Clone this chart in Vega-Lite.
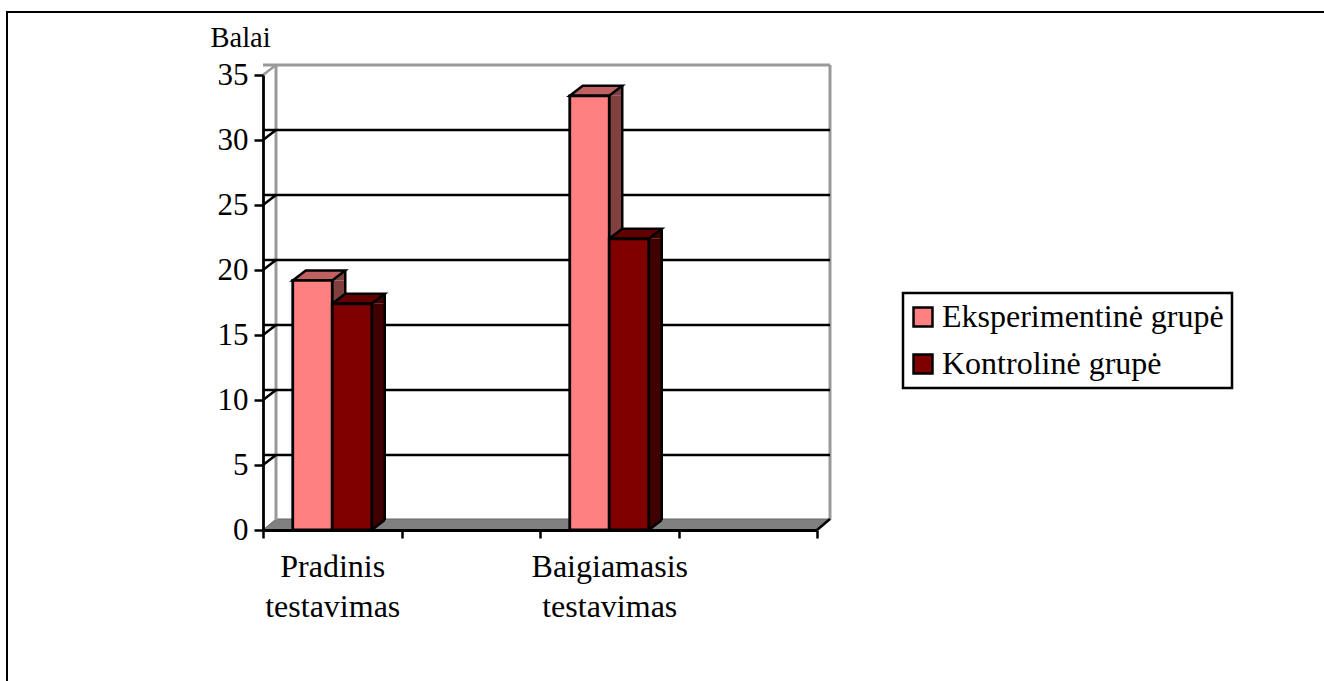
{
  "$schema": "https://vega.github.io/schema/vega-lite/v6.json",
  "width": 554,
  "height": 455,
  "autosize": "none",
  "padding": {"left": 263, "top": 75, "right": 507, "bottom": 151},
  "background": "white",
  "config": {"view": {"stroke": null}, "font": "Liberation Serif"},
  "datasets": {
    "bars": [
      {"testas": "Pradinis testavimas", "grupe": "Eksperimentinė grupė", "balai": 19.2},
      {"testas": "Pradinis testavimas", "grupe": "Kontrolinė grupė", "balai": 17.4},
      {"testas": "Baigiamasis testavimas", "grupe": "Eksperimentinė grupė", "balai": 33.4},
      {"testas": "Baigiamasis testavimas", "grupe": "Kontrolinė grupė", "balai": 22.4}
    ],
    "grid": [{"t": 5}, {"t": 10}, {"t": 15}, {"t": 20}, {"t": 25}, {"t": 30}],
    "box": [{"t": 0}]
  },
  "data": {"name": "bars"},
  "layer": [
    {
      "description": "page frame, running past the right and bottom edges",
      "data": {"name": "box"},
      "mark": {"type": "rect", "fill": "white", "stroke": "black", "strokeWidth": 2, "clip": false},
      "encoding": {"x": {"value": -256}, "x2": {"value": 1100}, "y": {"value": -63}, "y2": {"value": 660}}
    },
    {
      "description": "floor of the 3D box",
      "data": {"name": "box"},
      "mark": {"type": "point", "shape": "M0 0L13 -11L567 -11L554 0Z", "size": 4, "filled": true, "fill": "#808080", "fillOpacity": 1, "stroke": "#666666", "strokeWidth": 1, "opacity": 1},
      "encoding": {
        "x": {"datum": "Pradinis testavimas", "type": "nominal", "bandPosition": 0},
        "y": {"field": "t", "type": "quantitative"}
      }
    },
    {
      "description": "back wall, left edge",
      "data": {"name": "box"},
      "mark": {"type": "rule", "stroke": "#999999", "strokeWidth": 3, "xOffset": 13, "yOffset": -10, "y2Offset": -10},
      "encoding": {
        "x": {"datum": "Pradinis testavimas", "type": "nominal", "bandPosition": 0},
        "y": {"datum": 0, "type": "quantitative"},
        "y2": {"datum": 35}
      }
    },
    {
      "description": "back wall, right edge",
      "data": {"name": "box"},
      "mark": {"type": "rule", "stroke": "#999999", "strokeWidth": 3, "xOffset": 13, "yOffset": -10, "y2Offset": -10},
      "encoding": {
        "x": {"datum": "  ", "type": "nominal", "bandPosition": 1},
        "y": {"datum": 0, "type": "quantitative"},
        "y2": {"datum": 35}
      }
    },
    {
      "description": "back wall, top edge",
      "data": {"name": "box"},
      "mark": {"type": "rule", "stroke": "#999999", "strokeWidth": 3, "xOffset": 13, "x2Offset": 13, "yOffset": -10},
      "encoding": {"y": {"datum": 35, "type": "quantitative"}}
    },
    {
      "description": "gridlines on the back wall",
      "data": {"name": "grid"},
      "mark": {"type": "rule", "stroke": "black", "strokeWidth": 2.5, "xOffset": 13, "x2Offset": 13, "yOffset": -10},
      "encoding": {"y": {"field": "t", "type": "quantitative"}}
    },
    {
      "description": "slanted ticks joining the axis to the gridlines",
      "data": {"name": "grid"},
      "mark": {"type": "point", "shape": "M0 0L13 -10", "size": 4, "filled": false, "stroke": "black", "strokeWidth": 2.5, "opacity": 1},
      "encoding": {
        "x": {"datum": "Pradinis testavimas", "type": "nominal", "bandPosition": 0},
        "y": {"field": "t", "type": "quantitative"}
      }
    },
    {
      "description": "slanted grey corner at the top of the axis",
      "data": {"name": "box"},
      "mark": {"type": "point", "shape": "M0 0L13 -10", "size": 4, "filled": false, "stroke": "#999999", "strokeWidth": 2.5, "opacity": 1},
      "encoding": {
        "x": {"datum": "Pradinis testavimas", "type": "nominal", "bandPosition": 0},
        "y": {"datum": 35, "type": "quantitative"}
      }
    },
    {
      "description": "slanted black corner at the right end of the floor",
      "data": {"name": "box"},
      "mark": {"type": "point", "shape": "M0 0L13 -11", "size": 4, "filled": false, "stroke": "black", "strokeWidth": 2.5, "opacity": 1},
      "encoding": {
        "x": {"datum": "  ", "type": "nominal", "bandPosition": 1},
        "y": {"datum": 0, "type": "quantitative"}
      }
    },
    {
      "description": "pink bars: side and top faces, offset from the centre of the band",
      "transform": [{"filter": "datum.grupe === 'Eksperimentinė grupė'"}],
      "layer": [
        {
          "mark": {"type": "bar", "fill": "#804040", "width": 13, "xOffset": 6.5, "y2Offset": -10},
          "encoding": {
            "x": {"field": "testas", "type": "nominal"},
            "y": {"field": "balai", "type": "quantitative"},
            "y2": {"datum": 0}
          }
        },
        {
          "mark": {"type": "point", "shape": "M0 0L13 -10L13 0Z", "size": 4, "filled": true, "fill": "#804040", "opacity": 1},
          "encoding": {
            "x": {"field": "testas", "type": "nominal"},
            "y": {"field": "balai", "type": "quantitative"}
          }
        },
        {
          "mark": {"type": "point", "shape": "M0 0L0 -10L13 -10Z", "size": 4, "filled": true, "fill": "#804040", "opacity": 1},
          "encoding": {
            "x": {"field": "testas", "type": "nominal"},
            "y": {"datum": 0, "type": "quantitative"}
          }
        },
        {
          "mark": {"type": "rule", "stroke": "black", "strokeWidth": 2.5, "xOffset": 13, "yOffset": -10, "y2Offset": -10},
          "encoding": {
            "x": {"field": "testas", "type": "nominal"},
            "y": {"field": "balai", "type": "quantitative"},
            "y2": {"datum": 0}
          }
        },
        {
          "mark": {"type": "point", "shape": "M0 0L13 -10", "size": 4, "filled": false, "stroke": "black", "strokeWidth": 2.5, "opacity": 1},
          "encoding": {
            "x": {"field": "testas", "type": "nominal"},
            "y": {"datum": 0, "type": "quantitative"}
          }
        },
        {
          "mark": {"type": "point", "shape": "M-39.5 0L-26.5 -10L13 -10L0 0Z", "size": 4, "filled": true, "fill": "#C06060", "stroke": "black", "strokeWidth": 2.5, "opacity": 1},
          "encoding": {
            "x": {"field": "testas", "type": "nominal"},
            "y": {"field": "balai", "type": "quantitative"}
          }
        }
      ]
    },
    {
      "description": "dark bars: side and top faces, offset from the centre of the band",
      "transform": [{"filter": "datum.grupe === 'Kontrolinė grupė'"}],
      "layer": [
        {
          "mark": {"type": "bar", "fill": "#400000", "width": 13, "xOffset": 46, "y2Offset": -10},
          "encoding": {
            "x": {"field": "testas", "type": "nominal"},
            "y": {"field": "balai", "type": "quantitative"},
            "y2": {"datum": 0}
          }
        },
        {
          "mark": {"type": "point", "shape": "M39.5 0L52.5 -10L52.5 0Z", "size": 4, "filled": true, "fill": "#400000", "opacity": 1},
          "encoding": {
            "x": {"field": "testas", "type": "nominal"},
            "y": {"field": "balai", "type": "quantitative"}
          }
        },
        {
          "mark": {"type": "point", "shape": "M39.5 0L39.5 -10L52.5 -10Z", "size": 4, "filled": true, "fill": "#400000", "opacity": 1},
          "encoding": {
            "x": {"field": "testas", "type": "nominal"},
            "y": {"datum": 0, "type": "quantitative"}
          }
        },
        {
          "mark": {"type": "rule", "stroke": "black", "strokeWidth": 2.5, "xOffset": 52.5, "yOffset": -10, "y2Offset": -10},
          "encoding": {
            "x": {"field": "testas", "type": "nominal"},
            "y": {"field": "balai", "type": "quantitative"},
            "y2": {"datum": 0}
          }
        },
        {
          "mark": {"type": "point", "shape": "M39.5 0L52.5 -10", "size": 4, "filled": false, "stroke": "black", "strokeWidth": 2.5, "opacity": 1},
          "encoding": {
            "x": {"field": "testas", "type": "nominal"},
            "y": {"datum": 0, "type": "quantitative"}
          }
        },
        {
          "mark": {"type": "point", "shape": "M0 0L13 -10L52.5 -10L39.5 0Z", "size": 4, "filled": true, "fill": "#600000", "stroke": "black", "strokeWidth": 2.5, "opacity": 1},
          "encoding": {
            "x": {"field": "testas", "type": "nominal"},
            "y": {"field": "balai", "type": "quantitative"}
          }
        }
      ]
    },
    {
      "description": "front faces, carrying the axes and legend",
      "mark": {"type": "bar", "stroke": "black", "strokeWidth": 2.8},
      "encoding": {
        "x": {
          "field": "testas",
          "type": "nominal",
          "scale": {
            "domain": ["Pradinis testavimas", " ", "Baigiamasis testavimas", "  "],
            "paddingInner": 0,
            "paddingOuter": 0
          },
          "axis": {
            "title": null,
            "labelAngle": 0,
            "labelAlign": "center",
            "labelFont": "Liberation Serif",
            "labelFontSize": 32,
            "labelColor": "black",
            "labelExpr": "split(datum.label, ' ')",
            "labelLineHeight": 40,
            "labelPadding": 28,
            "tickBand": "extent",
            "tickColor": "black",
            "tickWidth": 2.5,
            "tickSize": 8,
            "domainColor": "black",
            "domainWidth": 2.8,
            "zindex": 1
          }
        },
        "xOffset": {
          "field": "grupe",
          "scale": {
            "domain": ["Eksperimentinė grupė", "Kontrolinė grupė"],
            "paddingInner": 0,
            "paddingOuter": 0.753
          }
        },
        "y": {
          "field": "balai",
          "type": "quantitative",
          "scale": {"domain": [0, 35], "nice": false},
          "axis": {
            "title": "Balai",
            "titleAngle": 0,
            "titleFont": "Liberation Serif",
            "titleFontSize": 28.5,
            "titleFontWeight": "normal",
            "titleColor": "black",
            "titleX": -53,
            "titleY": -23,
            "titleAlign": "left",
            "values": [0, 5, 10, 15, 20, 25, 30, 35],
            "labelFont": "Liberation Serif",
            "labelFontSize": 31,
            "labelColor": "black",
            "labelPadding": 6,
            "tickColor": "black",
            "tickWidth": 2.5,
            "tickSize": 9,
            "domainColor": "black",
            "domainWidth": 2.8,
            "grid": false,
            "zindex": 1
          }
        },
        "y2": {"datum": 0},
        "color": {
          "field": "grupe",
          "type": "nominal",
          "scale": {
            "domain": ["Eksperimentinė grupė", "Kontrolinė grupė"],
            "range": ["#FF8080", "#800000"]
          },
          "legend": {
            "title": null,
            "orient": "none",
            "legendX": 640,
            "legendY": 218,
            "strokeColor": "black",
            "fillColor": "white",
            "padding": 8,
            "symbolType": "square",
            "symbolSize": 360,
            "symbolOffset": -4,
            "symbolStrokeColor": "black",
            "symbolStrokeWidth": 2.5,
            "labelOffset": 3,
            "labelFont": "Liberation Serif",
            "labelFontSize": 32,
            "labelColor": "black",
            "labelLimit": 400,
            "rowPadding": 15,
            "encode": {"legend": {"update": {"strokeWidth": {"value": 2.5}}}}
          }
        }
      }
    }
  ]
}
